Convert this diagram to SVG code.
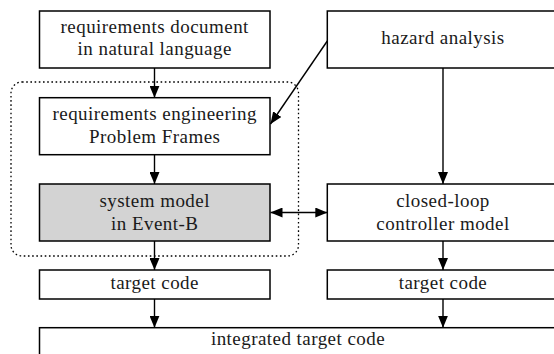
<svg xmlns="http://www.w3.org/2000/svg" width="554" height="354" viewBox="0 0 554 354">
<defs>
<marker id="ah" viewBox="0 0 12 10" refX="12" refY="5" markerWidth="12" markerHeight="10" markerUnits="userSpaceOnUse" orient="auto-start-reverse">
<path d="M0,0 L12,5 L0,10 Z" fill="#000"/>
</marker>
</defs>
<style>
.box{fill:#fff;stroke:#000;stroke-width:1.5}
.gray{fill:#d3d3d3}
.t{font-family:"Liberation Serif","DejaVu Serif",serif;font-size:19px;fill:#1a1a1a;text-anchor:middle;letter-spacing:0.45px}
.c{stroke:#000;stroke-width:1.4;fill:none}
.dot{fill:none;stroke:#000;stroke-width:1.3;stroke-dasharray:1.6 2.6}
</style>
<rect width="554" height="354" fill="#fff"/>
<g id="group">
<rect class="dot" x="11" y="82" width="287.5" height="174" rx="11" ry="11"/>
</g>
<g id="reqdoc">
<rect class="box" x="39.5" y="11" width="230.5" height="57"/>
<text class="t" x="154.7" y="32.5">requirements document</text>
<text class="t" x="154.7" y="55">in natural language</text>
</g>
<g id="reqeng">
<rect class="box" x="39.5" y="97.7" width="230.5" height="57"/>
<text class="t" x="154.7" y="120">requirements engineering</text>
<text class="t" x="154.7" y="142.7">Problem Frames</text>
</g>
<g id="sysmodel">
<rect class="box gray" x="39.5" y="184" width="230.5" height="57"/>
<text class="t" x="154.7" y="206.7">system model</text>
<text class="t" x="154.7" y="230">in Event-B</text>
</g>
<g id="code1">
<rect class="box" x="39.5" y="270" width="230.5" height="29"/>
<text class="t" x="154.7" y="288.5">target code</text>
</g>
<g id="hazard">
<rect class="box" x="327.3" y="11" width="231.4" height="57"/>
<text class="t" x="443" y="43.5">hazard analysis</text>
</g>
<g id="controller">
<rect class="box" x="327.3" y="184" width="231.4" height="57"/>
<text class="t" x="443" y="206.7">closed-loop</text>
<text class="t" x="443" y="230">controller model</text>
</g>
<g id="code2">
<rect class="box" x="327.3" y="270" width="231.4" height="29"/>
<text class="t" x="443" y="288.5">target code</text>
</g>
<g id="integrated">
<rect class="box" x="39.5" y="327.7" width="519.2" height="40"/>
<text class="t" x="298" y="345">integrated target code</text>
</g>
<g id="connectors">
<line class="c" x1="154.5" y1="68" x2="154.5" y2="97.7" marker-end="url(#ah)"/>
<line class="c" x1="154.5" y1="154.7" x2="154.5" y2="184" marker-end="url(#ah)"/>
<line class="c" x1="154.5" y1="241" x2="154.5" y2="270" marker-end="url(#ah)"/>
<line class="c" x1="154.5" y1="299" x2="154.5" y2="327.7" marker-end="url(#ah)"/>
<line class="c" x1="443" y1="68" x2="443" y2="184" marker-end="url(#ah)"/>
<line class="c" x1="443" y1="241" x2="443" y2="270" marker-end="url(#ah)"/>
<line class="c" x1="443" y1="299" x2="443" y2="327.7" marker-end="url(#ah)"/>
<line class="c" x1="327.3" y1="41" x2="270.5" y2="124" marker-end="url(#ah)"/>
<line class="c" x1="270.5" y1="212.5" x2="327.3" y2="212.5" marker-start="url(#ah)" marker-end="url(#ah)"/>
</g>
</svg>
